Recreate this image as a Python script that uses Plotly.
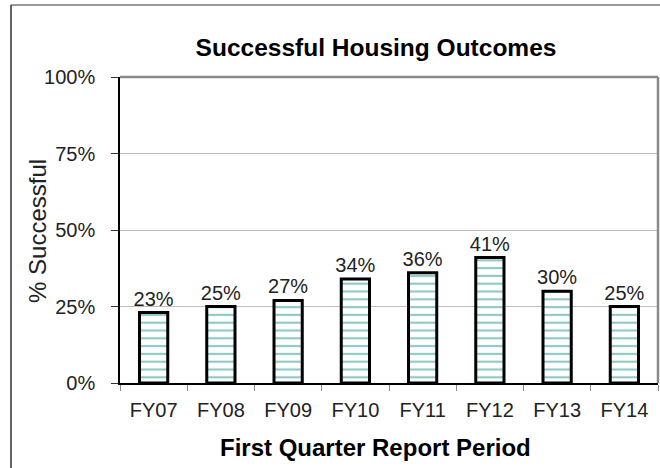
import plotly.graph_objects as go

categories = ["FY07", "FY08", "FY09", "FY10", "FY11", "FY12", "FY13", "FY14"]
success_rate = [0.23, 0.25, 0.27, 0.34, 0.36, 0.41, 0.30, 0.25]
y_tick_vals = [0, 0.25, 0.5, 0.75, 1.0]
y_tick_text = ["0%", "25%", "50%", "75%", "100%"]

FONT = "Liberation Sans, Arial, Helvetica, sans-serif"

fig = go.Figure()
fig.add_trace(go.Bar(
    x=categories,
    y=success_rate,
    width=0.42,
    marker=dict(
        color="white",
        line=dict(color="black", width=3),
        pattern=dict(shape="-", fgcolor="#1f9189", bgcolor="white",
                     size=7.8, solidity=0.28, fillmode="overlay"),
    ),
    text=[f"{v:.0%}" for v in success_rate],
    textposition="outside",
    constraintext="none",
    textfont=dict(family=FONT, size=20, color="#222"),
    cliponaxis=False,
    hoverinfo="skip",
))

# plot-area frame (top and right in gray) and outer chart border
fig.add_shape(type="line", xref="paper", yref="paper", x0=0, x1=1, y0=1, y1=1,
              line=dict(color="#8a8a8a", width=2.5))
fig.add_shape(type="line", xref="paper", yref="paper", x0=1, x1=1, y0=0, y1=1,
              line=dict(color="#8a8a8a", width=2.5))
fig.add_shape(type="line", xref="paper", yref="paper", x0=-0.2026, x1=1.3, y0=1.235, y1=1.235,
              line=dict(color="#9a9a9a", width=2))
fig.add_shape(type="line", xref="paper", yref="paper", x0=-0.2026, x1=-0.2026, y0=-0.4, y1=1.235,
              line=dict(color="#333", width=1.5))

# axis titles
fig.add_annotation(text="% Successful", xref="paper", yref="paper",
                   x=(38 - 120) / 538, y=0.497, textangle=-90,
                   xanchor="center", yanchor="middle", showarrow=False,
                   font=dict(family=FONT, size=24, color="#222"))
fig.add_annotation(text="<b>First Quarter Report Period</b>", xref="paper", yref="paper",
                   x=(375 - 120) / 538, y=(383 - 447) / 306,
                   xanchor="center", yanchor="middle", showarrow=False,
                   font=dict(family=FONT, size=24, color="black"))

fig.update_layout(
    width=660, height=468,
    margin=dict(l=120, r=2, t=77, b=85),
    paper_bgcolor="white", plot_bgcolor="white",
    showlegend=False,
    title=dict(text="<b>Successful Housing Outcomes</b>", x=376/660, xanchor="center",
               y=1 - 47/468, yanchor="middle",
               font=dict(family=FONT, size=24.5, color="black")),
    font=dict(family=FONT, color="#222"),
)
fig.update_xaxes(
    type="category",
    showline=True, linecolor="black", linewidth=1.5,
    ticks="outside", tickson="boundaries", ticklen=6, tickcolor="#888", tickwidth=1,
    ticklabelstandoff=8,
    tickfont=dict(family=FONT, size=20, color="#222"),
    showgrid=False,
)
fig.update_yaxes(
    range=[0, 1],
    tickvals=y_tick_vals, ticktext=y_tick_text,
    showline=True, linecolor="black", linewidth=1.5,
    ticks="outside", ticklen=7, tickcolor="#333",
    ticklabelstandoff=12,
    tickfont=dict(family=FONT, size=20, color="#222"),
    showgrid=True, gridcolor="#bdbdbd", gridwidth=1,
    zeroline=False,
)

fig.write_html("out.html", config={"displayModeBar": False},
               post_script="document.body.style.margin='0';")
